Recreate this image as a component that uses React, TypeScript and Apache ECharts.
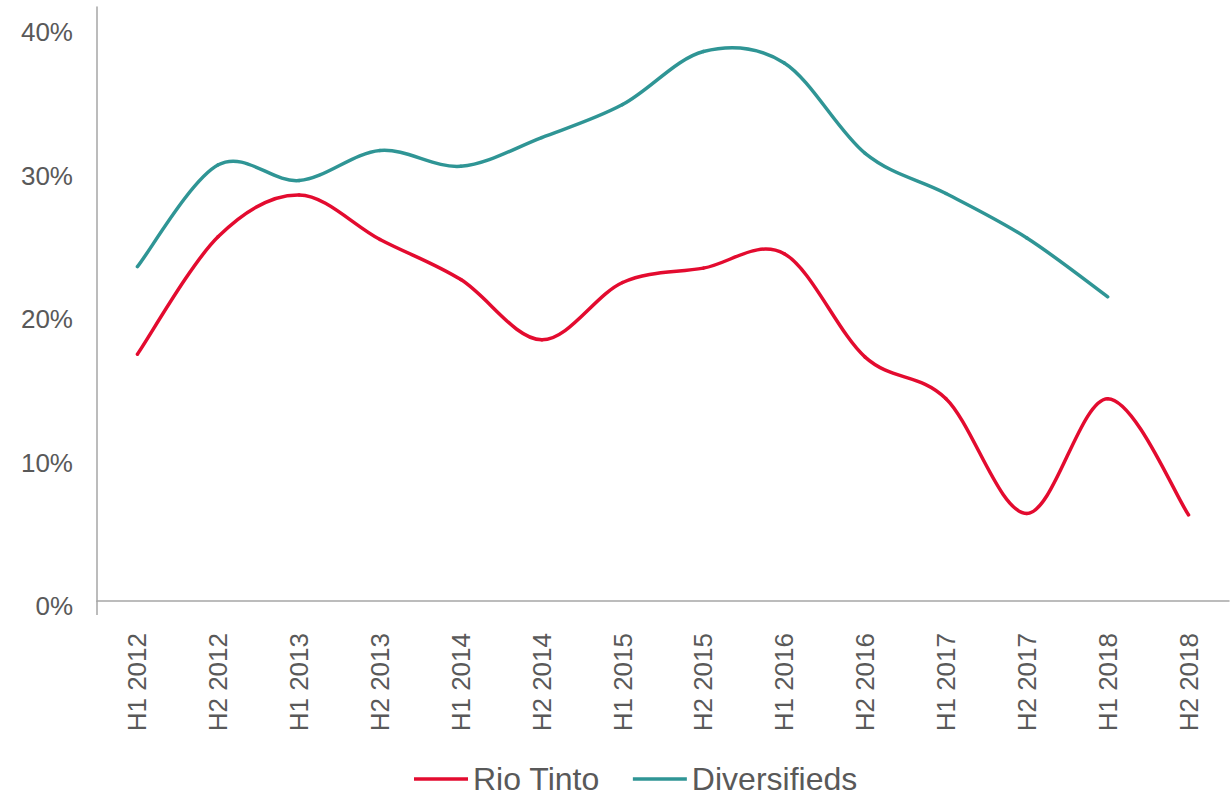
import React, { useEffect, useRef } from "react";
import * as echarts from "echarts";

const categories = [
  "H1 2012", "H2 2012", "H1 2013", "H2 2013", "H1 2014", "H2 2014", "H1 2015",
  "H2 2015", "H1 2016", "H2 2016", "H1 2017", "H2 2017", "H1 2018", "H2 2018",
];
const rioTinto: (number | null)[] = [17.2, 25.4, 28.3, 25.2, 22.4, 18.2, 22.2, 23.2, 24.2, 17.0, 14.1, 6.1, 14.1, 6.0];
const diversifieds: (number | null)[] = [23.3, 30.4, 29.3, 31.4, 30.3, 32.3, 34.6, 38.3, 37.5, 31.2, 28.4, 25.3, 21.2, null];
const yTicks = [0, 10, 20, 30, 40];

const FONT = '"Liberation Sans", Arial, sans-serif';
const GRAY = "#595959";
const AXIS = "#A6A6A6";
const RED = "#E30B2F";
const TEAL = "#2F9595";

// Excel-like smoothed line: each data item draws the Bezier segment to the next item
function makeRenderItem(values: (number | null)[], color: string) {
  return (params: any, api: any) => {
    const i = api.value(0) as number;
    const has = (k: number) => k >= 0 && k < values.length && values[k] !== null && values[k] !== undefined;
    if (!has(i) || !has(i + 1)) return null;
    const pt = (k: number) => api.coord([k, values[k]]);
    const p1 = pt(i);
    const p2 = pt(i + 1);
    const p0 = has(i - 1) ? pt(i - 1) : p1;
    const p3 = has(i + 2) ? pt(i + 2) : p2;
    return {
      type: "bezierCurve",
      shape: {
        x1: p1[0],
        y1: p1[1],
        cpx1: p1[0] + (p2[0] - p0[0]) / 6,
        cpy1: p1[1] + (p2[1] - p0[1]) / 6,
        cpx2: p2[0] - (p3[0] - p1[0]) / 6,
        cpy2: p2[1] - (p3[1] - p1[1]) / 6,
        x2: p2[0],
        y2: p2[1],
      },
      style: { stroke: color, lineWidth: 3.5, fill: null, lineCap: "round" },
      silent: true,
    };
  };
}

const toData = (values: (number | null)[]) =>
  values.map((v, i) => [i, v]).filter((d) => d[1] !== null);

export default function App() {
  const ref = useRef<HTMLDivElement>(null);
  useEffect(() => {
    if (!ref.current) return;
    const chart = echarts.init(ref.current, undefined, { renderer: "svg" });
    chart.setOption({
      animation: false,
      backgroundColor: "#ffffff",
      textStyle: { fontFamily: FONT },
      grid: { left: 97, right: 1, top: 7, bottom: 195 },
      legend: {
        left: 409,
        top: 758,
        icon: "rect",
        itemWidth: 54,
        itemHeight: 3.5,
        itemGap: 33,
        textStyle: { fontFamily: FONT, fontSize: 32, lineHeight: 32, color: GRAY },
        data: ["Rio Tinto", "Diversifieds"],
      },
      xAxis: {
        type: "category",
        data: categories,
        boundaryGap: true,
        axisLine: { show: true, lineStyle: { color: AXIS, width: 1.5 } },
        axisTick: { show: false },
        axisLabel: {
          rotate: 90,
          margin: 32,
          fontFamily: FONT,
          fontSize: 26,
          color: GRAY,
          interval: 0,
        },
        splitLine: { show: false },
      },
      yAxis: {
        type: "value",
        min: yTicks[0],
        max: 41.4,
        interval: 10,
        axisLine: { show: true, lineStyle: { color: AXIS, width: 1.5 } },
        axisTick: { show: false },
        splitLine: { show: false },
        axisLabel: {
          showMaxLabel: false,
          margin: 24,
          fontFamily: FONT,
          fontSize: 26,
          color: GRAY,
          verticalAlign: "top",
          lineHeight: 10,
          formatter: (v: number) => (yTicks.includes(v) ? v + "%" : ""),
        },
      },
      graphic: [
        {
          type: "line",
          shape: { x1: 97, y1: 601, x2: 97, y2: 615 },
          style: { stroke: AXIS, lineWidth: 1.5 },
        },
      ],
      series: [
        {
          name: "Rio Tinto",
          type: "custom",
          data: toData(rioTinto),
          encode: { x: 0, y: 1 },
          renderItem: makeRenderItem(rioTinto, RED),
          itemStyle: { color: RED },
        },
        {
          name: "Diversifieds",
          type: "custom",
          data: toData(diversifieds),
          encode: { x: 0, y: 1 },
          renderItem: makeRenderItem(diversifieds, TEAL),
          itemStyle: { color: TEAL },
        },
      ],
    });
    return () => chart.dispose();
  }, []);
  return (
    <div
      ref={ref}
      style={{ position: "fixed", left: 0, top: 0, width: 1230, height: 796, background: "#fff" }}
    />
  );
}
